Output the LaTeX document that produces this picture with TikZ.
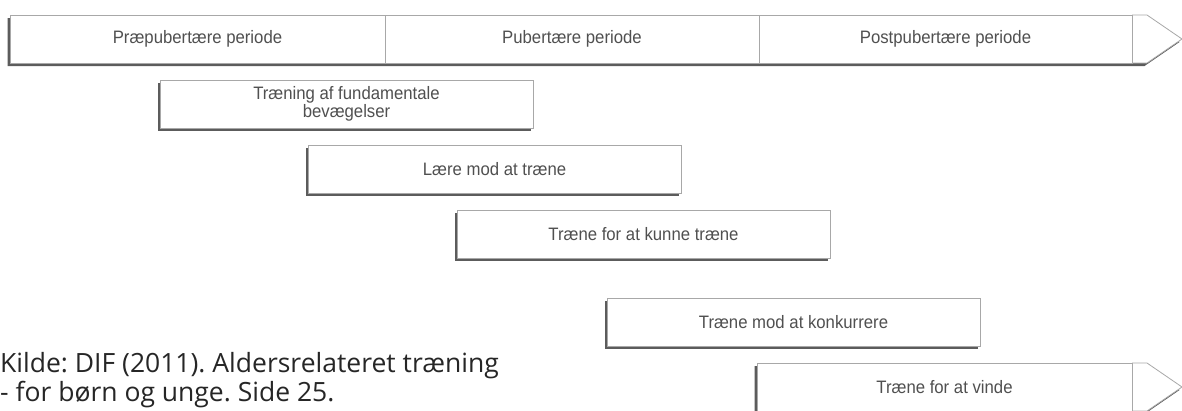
\documentclass[tikz,border=0pt]{standalone}
\usepackage{fontspec}
\setmainfont{Open Sans}
\newfontfamily\narrowfont[FakeStretch=0.93]{Liberation Sans}
\usepackage{tikz}
\usetikzlibrary{shadows, positioning, calc}
\definecolor{labelgray}{HTML}{505050}
\definecolor{edgegray}{HTML}{A8A8A8}
\frenchspacing

\begin{document}
\begin{tikzpicture}[x=1pt,y=-1pt,
	bar shadow/.style={drop shadow={shadow xshift=-2.5pt,shadow yshift=-3pt,opacity=.85,fill=black!75}},
	edge/.style={draw=edgegray,line width=.8pt},
	period/.style={rectangle,edge,fill=white,minimum width=374pt,minimum height=48pt,
		inner sep=0pt,outer sep=0pt,font=\narrowfont\fontsize{18}{16}\selectfont,text=labelgray},
	stage/.style={period,minimum width=373pt,anchor=north west,align=center,bar shadow}]
	\useasboundingbox (0,0) rectangle (1182,410);
	
	% time line
	\fill[white,bar shadow] (10,15) -- (1147,15) -- (1182,39) -- (1147,63) -- (10,63) -- cycle;
	\node[period,minimum width=375pt,anchor=north west] (pre) at (10,15) {Præpubertære periode};
	\node[period,right=0pt of pre] (pub) {Pubertære periode};
	\node[period,minimum width=373pt,right=0pt of pub] (post) {Postpubertære periode};
	\draw[edge] (post.north east) -- ++(15,0) -- ($(post.east)+(50,0)$) -- ($(post.south east)+(15,0)$) -- (post.south east);
	
	% stages
	\node[stage] (s1) at (160,80) {Træning af fundamentale\\bevægelser};
	\node[stage] (s2) at (308,145) {Lære mod at træne};
	\node[stage] (s3) at (457,210) {Træne for at kunne træne};
	\node[stage] (s4) at (607,298) {Træne mod at konkurrere};
	
	\fill[white,bar shadow] (757,363) -- (1147,363) -- (1182,387) -- (1147,411) -- (757,411) -- cycle;
	\node[period,minimum width=375pt,anchor=north west] (s5) at (757,363) {Træne for at vinde};
	\draw[edge] (s5.north east) -- ++(15,0) -- ($(s5.east)+(50,0)$) -- ($(s5.south east)+(15,0)$) -- (s5.south east);
	
	% source
	\node[anchor=north west,inner sep=0pt,align=left,font=\fontsize{26.5}{29}\selectfont,text=black!85] (src) at (0,352)
		{Kilde: DIF (2011). Aldersrelateret træning\\- for børn og unge. Side 25.};
\end{tikzpicture}
\end{document}
